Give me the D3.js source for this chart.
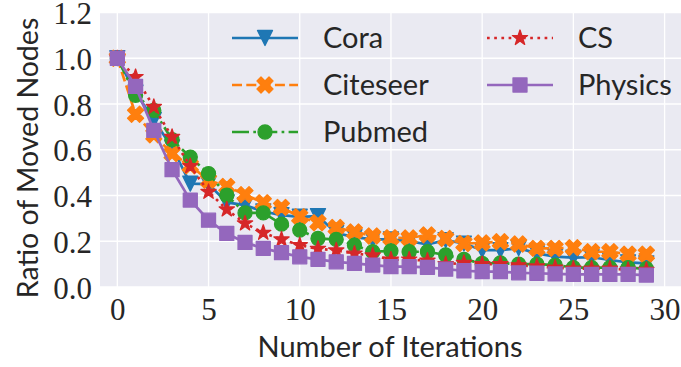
<!DOCTYPE html>
<html>
<head>
<meta charset="utf-8">
<script src="https://cdn.jsdelivr.net/npm/d3@7"></script>
<style>
  html, body { margin: 0; padding: 0; background: #ffffff; }
  svg { display: block; }
</style>
</head>
<body>
<script>
// Ratio of nodes moved per iteration for each dataset
const iterations = [0, 1, 2, 3, 4, 5, 6, 7, 8, 9, 10, 11, 12, 13, 14, 15, 16, 17, 18, 19, 20, 21, 22, 23, 24, 25, 26, 27, 28, 29];
const cora     = [1.0, 0.85, 0.73, 0.61, 0.452, 0.45, 0.37, 0.358, 0.33, 0.314, 0.307, 0.31, 0.236, 0.218, 0.208, 0.208, 0.2, 0.186, 0.205, 0.19, 0.161, 0.161, 0.17, 0.147, 0.133, 0.128, 0.13, 0.118, 0.108, 0.103];
const citeseer = [1.0, 0.755, 0.665, 0.583, 0.53, 0.467, 0.44, 0.404, 0.368, 0.348, 0.307, 0.281, 0.26, 0.241, 0.223, 0.215, 0.214, 0.228, 0.212, 0.19, 0.193, 0.198, 0.188, 0.169, 0.169, 0.172, 0.154, 0.154, 0.143, 0.143];
const pubmed   = [1.0, 0.838, 0.772, 0.644, 0.568, 0.496, 0.401, 0.324, 0.324, 0.275, 0.249, 0.212, 0.208, 0.183, 0.154, 0.158, 0.154, 0.154, 0.14, 0.121, 0.103, 0.105, 0.1, 0.1, 0.096, 0.085, 0.085, 0.085, 0.085, 0.08];
const cs       = [1.0, 0.918, 0.787, 0.656, 0.528, 0.416, 0.339, 0.278, 0.237, 0.208, 0.183, 0.167, 0.16, 0.146, 0.138, 0.12, 0.12, 0.115, 0.1, 0.105, 0.1, 0.1, 0.095, 0.09, 0.085, 0.08, 0.08, 0.08, 0.075, 0.075];
const physics  = [1.0, 0.877, 0.685, 0.513, 0.38, 0.292, 0.234, 0.195, 0.169, 0.15, 0.132, 0.121, 0.11, 0.103, 0.096, 0.089, 0.089, 0.086, 0.078, 0.071, 0.067, 0.067, 0.062, 0.06, 0.057, 0.055, 0.055, 0.055, 0.055, 0.052];

const seriesNames = ["Cora", "Citeseer", "Pubmed", "CS", "Physics"];
const xTicks = [0, 5, 10, 15, 20, 25, 30];
const yTicks = [0.0, 0.2, 0.4, 0.6, 0.8, 1.0, 1.2];
const xLabel = "Number of Iterations";
const yLabel = "Ratio of Moved Nodes";

const W = 681, H = 367;
const plot = { left: 100, right: 681, top: 12.5, bottom: 287 };

const series = [
  { name: seriesNames[0], values: cora,     color: "#1f77b4", dash: null,              marker: "tridown" },
  { name: seriesNames[1], values: citeseer, color: "#ff7f0e", dash: "10,4.3",          marker: "xfill" },
  { name: seriesNames[2], values: pubmed,   color: "#2ca02c", dash: "17,4.3,2.7,4.3",  marker: "circle" },
  { name: seriesNames[3], values: cs,       color: "#d62728", dash: "2.7,4.5",         marker: "star" },
  { name: seriesNames[4], values: physics,  color: "#9467bd", dash: null,              marker: "square" }
];

const svg = d3.select("body").append("svg").attr("width", W).attr("height", H);

const x = d3.scaleLinear().domain([-0.95, 30.9]).range([plot.left, plot.right]);
const y = d3.scaleLinear().domain([0, 1.2]).range([plot.bottom, plot.top]);

// Axes background
svg.append("rect")
  .attr("x", plot.left).attr("y", plot.top)
  .attr("width", plot.right - plot.left).attr("height", plot.bottom - plot.top)
  .attr("fill", "#eaeaf2");

// Grid lines
const grid = svg.append("g").attr("stroke", "#ffffff").attr("stroke-width", 1.3);
grid.selectAll(".gx").data(xTicks).join("line")
  .attr("x1", d => x(d)).attr("x2", d => x(d))
  .attr("y1", plot.top).attr("y2", plot.bottom);
grid.selectAll(".gy").data(yTicks).join("line")
  .attr("x1", plot.left).attr("x2", plot.right)
  .attr("y1", d => y(d)).attr("y2", d => y(d));

// Tick labels (no tick marks)
const tickFont = "'Liberation Serif', 'DejaVu Serif', serif";
const xAxis = svg.append("g").attr("transform", `translate(0,${plot.bottom})`)
  .call(d3.axisBottom(x).tickValues(xTicks).tickSize(0).tickPadding(11).tickFormat(d3.format("d")));
const yAxis = svg.append("g").attr("transform", `translate(${plot.left},0)`)
  .call(d3.axisLeft(y).tickValues(yTicks).tickSize(0).tickPadding(8).tickFormat(d3.format(".1f")));
[xAxis, yAxis].forEach(a => {
  a.select(".domain").remove();
  a.selectAll("text").attr("font-family", tickFont).attr("font-size", 31).attr("fill", "#262626");
});
xAxis.selectAll("text").attr("dy", "0.71em");
yAxis.selectAll("text").attr("dy", "0.36em");

// Axis titles
const labelFont = "Lato, 'Liberation Sans', sans-serif";
svg.append("text").attr("x", 390).attr("y", 357)
  .attr("text-anchor", "middle").attr("font-family", labelFont).attr("font-size", 29)
  .attr("fill", "#262626").text(xLabel);
svg.append("text").attr("transform", "translate(38,158) rotate(-90)")
  .attr("text-anchor", "middle").attr("font-family", labelFont).attr("font-size", 28.5)
  .attr("fill", "#262626").text(yLabel);

// Marker shapes (size = box width in px)
function markerPath(type, s) {
  const h = s / 2;
  switch (type) {
    case "tridown": return `M0,${h}L${-h},${-h}L${h},${-h}Z`;
    case "square": return `M${-h},${-h}H${h}V${h}H${-h}Z`;
    case "circle": return d3.symbol(d3.symbolCircle, Math.PI * h * h)();
    case "xfill": {
      const pts = [[-1,-2],[0,-1],[1,-2],[2,-1],[1,0],[2,1],[1,2],[0,1],[-1,2],[-2,1],[-1,0],[-2,-1]];
      return "M" + pts.map(p => `${p[0] * s / 4},${p[1] * s / 4}`).join("L") + "Z";
    }
    case "star": {
      const outer = h, inner = h * 0.381966;
      const pts = [];
      for (let i = 0; i < 10; i++) {
        const r = i % 2 === 0 ? outer : inner;
        const a = -Math.PI / 2 + i * Math.PI / 5;
        pts.push([r * Math.cos(a), r * Math.sin(a)]);
      }
      return "M" + pts.map(p => `${p[0].toFixed(2)},${p[1].toFixed(2)}`).join("L") + "Z";
    }
  }
}
const markerSize = { tridown: 15, square: 14, circle: 14, xfill: 16, star: 16 };

const line = d3.line().x((d, i) => x(iterations[i])).y(d => y(d));

svg.append("clipPath").attr("id", "plotclip").append("rect")
  .attr("x", plot.left).attr("y", plot.top)
  .attr("width", plot.right - plot.left).attr("height", plot.bottom - plot.top);

const marks = svg.append("g").attr("clip-path", "url(#plotclip)");
series.forEach(s => {
  const g = marks.append("g");
  g.append("path").datum(s.values)
    .attr("d", line).attr("fill", "none")
    .attr("stroke", s.color).attr("stroke-width", 2.7)
    .attr("stroke-dasharray", s.dash);
  g.selectAll("path.m").data(s.values).join("path").attr("class", "m")
    .attr("transform", (d, i) => `translate(${x(iterations[i])},${y(d)})`)
    .attr("d", markerPath(s.marker, markerSize[s.marker]))
    .attr("fill", s.color).attr("stroke", s.color).attr("stroke-width", 1.3)
    .attr("stroke-linejoin", "round");
});

// Legend: two columns, filled column by column
const legend = svg.append("g");
const colX = [232, 487];
const rowY = [38, 85, 132];
series.forEach((s, i) => {
  const col = i < 3 ? 0 : 1, row = i < 3 ? i : i - 3;
  const x0 = colX[col], yy = rowY[row];
  const g = legend.append("g");
  g.append("line").attr("x1", x0).attr("x2", x0 + 66).attr("y1", yy).attr("y2", yy)
    .attr("stroke", s.color).attr("stroke-width", 2.7).attr("stroke-dasharray", s.dash);
  g.append("path").attr("transform", `translate(${x0 + 33},${yy})`)
    .attr("d", markerPath(s.marker, markerSize[s.marker]))
    .attr("fill", s.color).attr("stroke", s.color).attr("stroke-width", 1.3)
    .attr("stroke-linejoin", "round");
  g.append("text").attr("x", x0 + 91).attr("y", yy).attr("dy", "0.36em")
    .attr("font-family", labelFont).attr("font-size", 29).attr("fill", "#262626")
    .text(s.name);
});
</script>
</body>
</html>
